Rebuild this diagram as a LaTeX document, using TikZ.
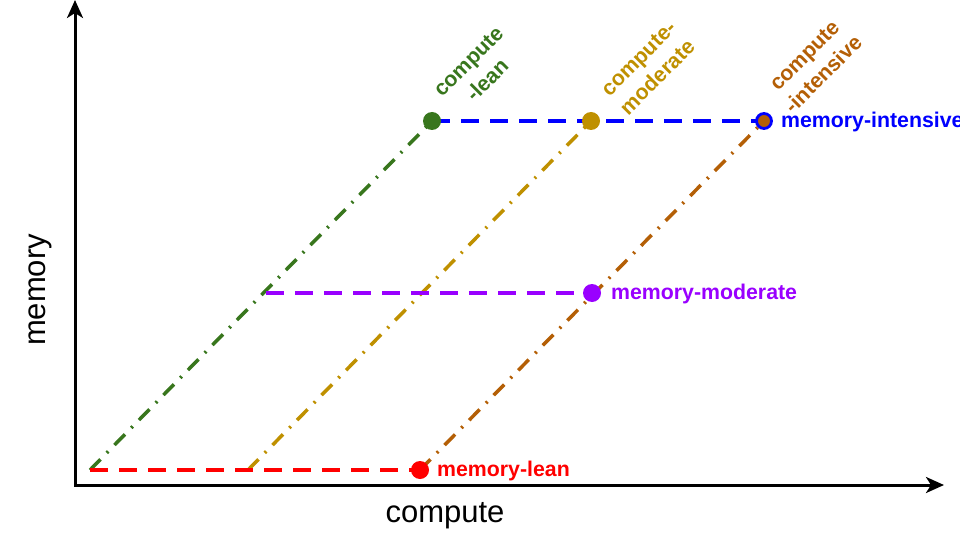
\documentclass[tikz,border=0pt]{standalone}
\usepackage{fontspec}
\setmainfont{Liberation Sans}
\usetikzlibrary{arrows.meta,backgrounds}
\definecolor{cgreen}{HTML}{38761D}
\definecolor{cgold}{HTML}{BF9000}
\definecolor{cbrown}{HTML}{B45F06}
\definecolor{cblue}{HTML}{0000FF}
\definecolor{cpurple}{HTML}{9900FF}
\definecolor{cred}{HTML}{FF0000}
\tikzset{
  axisline/.style={line width=3pt, line join=miter, {Stealth[length=18pt,width=16pt,inset=5pt]}-{Stealth[length=18pt,width=16pt,inset=5pt]}},
  dashdotline/.style={line width=3.5pt, dash pattern=on 15pt off 9pt on 2pt off 9pt},
  dashline/.style={line width=3.5pt, dash pattern=on 18pt off 11pt},
  dot/.style={circle, inner sep=0pt, minimum size=18pt},
  sidelabel/.style={inner sep=0pt, anchor=west, font=\fontsize{21.3}{26.6}\selectfont\bfseries},
  rotlabel/.style={inner sep=0pt, rotate=45, align=center, font=\fontsize{21.3}{26.6}\selectfont\bfseries},
  axislabel/.style={inner sep=0pt, font=\fontsize{31}{37}\selectfont}
}
\begin{document}
\begin{tikzpicture}[x=1pt,y=-1pt]
\useasboundingbox (0,0) rectangle (960,540);
% axes
\coordinate (origin) at (75,485);
\coordinate (ytip) at (75,0);
\coordinate (xtip) at (944,485);
\draw[axisline] (ytip) -- (origin) -- (xtip);
\node[axislabel, rotate=90] (ylab) at (40,290) {memory};
\node[axislabel] (xlab) at (445,516) {compute};
% points
\coordinate (o) at (90,470);
\coordinate (g0) at (248,470);
\coordinate (p0) at (266,293);
\node[dot, fill=cgreen] (clean) at (432,121) {};
\node[dot, fill=cgold] (cmod) at (591,121) {};
\node[dot, fill=cbrown, draw=cblue, line width=2.8pt, minimum size=15pt] (cint) at (764,121) {};
\node[dot, fill=cpurple] (mmod) at (592,293) {};
\node[dot, fill=cred] (mlean) at (420,470) {};
\begin{scope}[on background layer]
\draw[dashdotline, cgreen] (o) -- (clean.center);
\draw[dashdotline, cgold] (g0) -- (cmod.center);
\draw[dashdotline, cbrown] (mlean.center) -- (cint.center);
\draw[dashline, cred] (o) -- (mlean.center);
\draw[dashline, cpurple] (p0) -- (mmod.center);
\draw[dashline, cblue] (clean.center) -- (cint.center);
\end{scope}
% labels
\node[sidelabel, text=cred] (llean) at (437,471) {memory-lean};
\node[sidelabel, text=cpurple] (lmod) at (611,294) {memory-moderate};
\node[sidelabel, text=cblue] (lint) at (781,122) {memory-intensive};
\node[rotlabel, text=cgreen] (rlean) at (478,71) {compute\\-lean};
\node[rotlabel, text=cgold] (rmod) at (648,68) {compute-\\moderate};
\node[rotlabel, text=cbrown] (rint) at (814,65) {compute\\-intensive};
\end{tikzpicture}
\end{document}
